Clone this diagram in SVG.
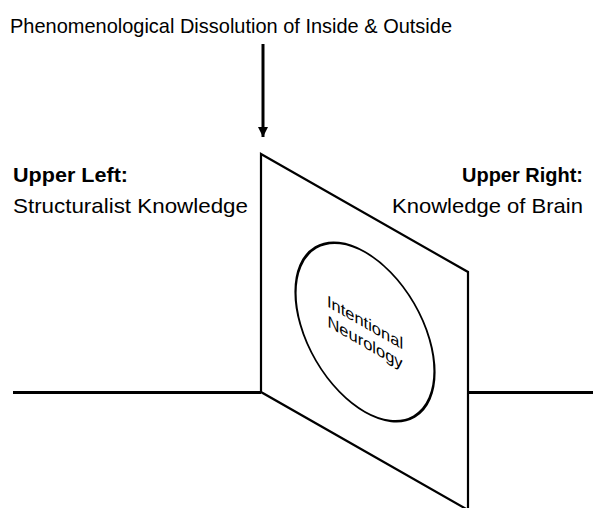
<svg xmlns="http://www.w3.org/2000/svg" width="593" height="508" viewBox="0 0 593 508">
  <style>
    .lbl { font-family: "Liberation Sans", Arial, sans-serif; fill: #000; }
    .bold { font-weight: bold; }
    .edge { fill: none; stroke: #000; stroke-width: 2.2; }
    .axis { fill: none; stroke: #000; stroke-width: 2.8; }
  </style>
  <defs>
    <marker id="arrowhead" viewBox="0 0 10 10" refX="10" refY="5" markerWidth="3.4" markerHeight="3.4" orient="auto" markerUnits="strokeWidth">
      <path d="M0,0 L10,5 L0,10 z" fill="#000"/>
    </marker>
  </defs>

  <rect width="593" height="508" fill="#fff"/>

  <!-- heading -->
  <g id="heading">
    <text class="lbl" x="10" y="33" font-size="21" textLength="442" lengthAdjust="spacingAndGlyphs">Phenomenological Dissolution of Inside &amp; Outside</text>
  </g>

  <!-- horizontal ground line and arrow -->
  <g id="connectors">
    <line class="axis" x1="13" y1="392.5" x2="261" y2="392.5"/>
    <line class="axis" x1="468" y1="392.5" x2="593" y2="392.5"/>
    <line x1="263" y1="44" x2="263" y2="137" stroke="#000" stroke-width="3" marker-end="url(#arrowhead)"/>
  </g>

  <g id="upper-left">
    <text class="lbl bold" x="13" y="182" font-size="21" textLength="115" lengthAdjust="spacingAndGlyphs">Upper Left:</text>
    <text class="lbl" x="13" y="213" font-size="21" textLength="235" lengthAdjust="spacingAndGlyphs">Structuralist Knowledge</text>
  </g>

  <g id="upper-right">
    <text class="lbl bold" x="462" y="182" font-size="21" textLength="121" lengthAdjust="spacingAndGlyphs">Upper Right:</text>
    <text class="lbl" x="392" y="213" font-size="21" textLength="191" lengthAdjust="spacingAndGlyphs">Knowledge of Brain</text>
  </g>

  <!-- slanted plane -->
  <g id="plane">
    <polygon class="edge" fill="#fff" points="261,154 468,272 468,510 261,392"/>
  </g>

  <!-- circle drawn in the plane of the slanted panel -->
  <g id="intentional-neurology" transform="translate(365,332) skewY(29.7)">
    <ellipse class="edge" cx="0" cy="0" rx="69.5" ry="80"/>
    <text class="lbl" x="0" y="-4" font-size="16.5" text-anchor="middle" fill="#222">Intentional</text>
    <text class="lbl" x="0" y="16" font-size="16.5" text-anchor="middle" fill="#222">Neurology</text>
  </g>
</svg>
